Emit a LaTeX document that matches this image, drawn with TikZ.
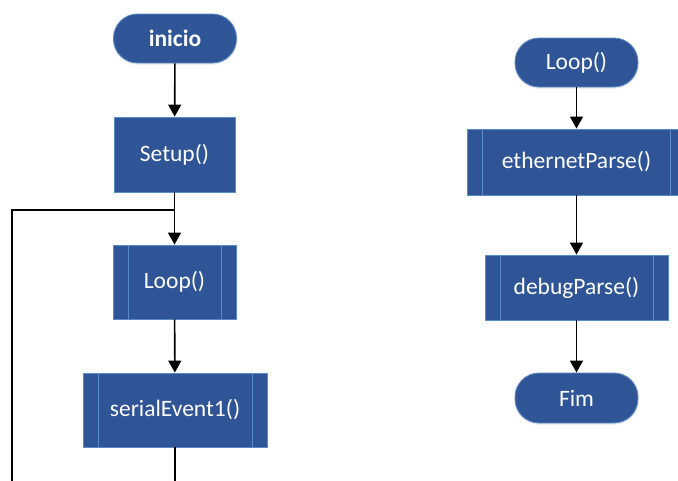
\documentclass[tikz,border=0pt]{standalone}
\usepackage{fontspec}
\setmainfont{Carlito}
\usetikzlibrary{arrows.meta,shadows}
\definecolor{fillc}{HTML}{2F5597}
\definecolor{bordc}{HTML}{5B8BC6}
\tikzset{
  x=1pt, y=-1pt,
  base/.style={draw=bordc, line width=0.9pt, fill=fillc, text=white, inner sep=0pt,
    font=\fontsize{23.5}{27}\selectfont},
  term/.style={base, rounded corners=24pt, minimum width=123pt, minimum height=49pt,
    drop shadow={opacity=0.12, shadow xshift=0pt, shadow yshift=-2pt}},
  proc/.style={base, rectangle, minimum width=121pt, minimum height=75pt},
  sub/.style={base, rectangle, path picture={
      \draw[bordc, line width=0.9pt]
        ([xshift=15pt]path picture bounding box.north west) --
        ([xshift=15pt]path picture bounding box.south west)
        ([xshift=-15pt]path picture bounding box.north east) --
        ([xshift=-15pt]path picture bounding box.south east);}},
  arr/.style={line width=1.6pt, -{Triangle[width=13pt,length=12pt]}},
  ln/.style={line width=1.6pt}
}
\begin{document}
\begin{tikzpicture}
\useasboundingbox (0,0) rectangle (678,480);
\clip (0,0) rectangle (678,480);

% main program
\node[term, font=\fontsize{23.5}{27}\selectfont\bfseries] (inicio) at (175,38.5) {inicio};
\node[proc] (setup) at (174.5,154.5) {Setup()};
\node[sub, minimum width=123pt, minimum height=74pt] (loopL) at (174.5,282) {Loop()};
\node[sub, minimum width=184pt, minimum height=74pt] (serial) at (175,410) {serialEvent1()};

\coordinate (join) at (174.5,210);
\coordinate (back) at (12,210);
\coordinate (backend) at (12,482);
\coordinate (serialend) at (175,482);

\draw[arr] (inicio) -- (setup);
\draw[arr] (setup) -- (loopL);
\draw[arr] (loopL) -- (serial);
\draw[ln] (serial.south) -- (serialend);
\draw[ln] (join) -- (back) -- (backend);

% loop routine
\node[term] (loopR) at (576.5,62.5) {Loop()};
\node[sub, minimum width=218pt, minimum height=66pt] (eth) at (576.5,162) {ethernetParse()};
\node[sub, minimum width=183pt, minimum height=65pt] (debug) at (576.5,287.5) {debugParse()};
\node[term, minimum height=50pt] (fim) at (576.5,398) {Fim};

\draw[arr] (loopR) -- (eth);
\draw[arr] (eth) -- (debug);
\draw[arr] (debug) -- (fim);
\end{tikzpicture}
\end{document}
